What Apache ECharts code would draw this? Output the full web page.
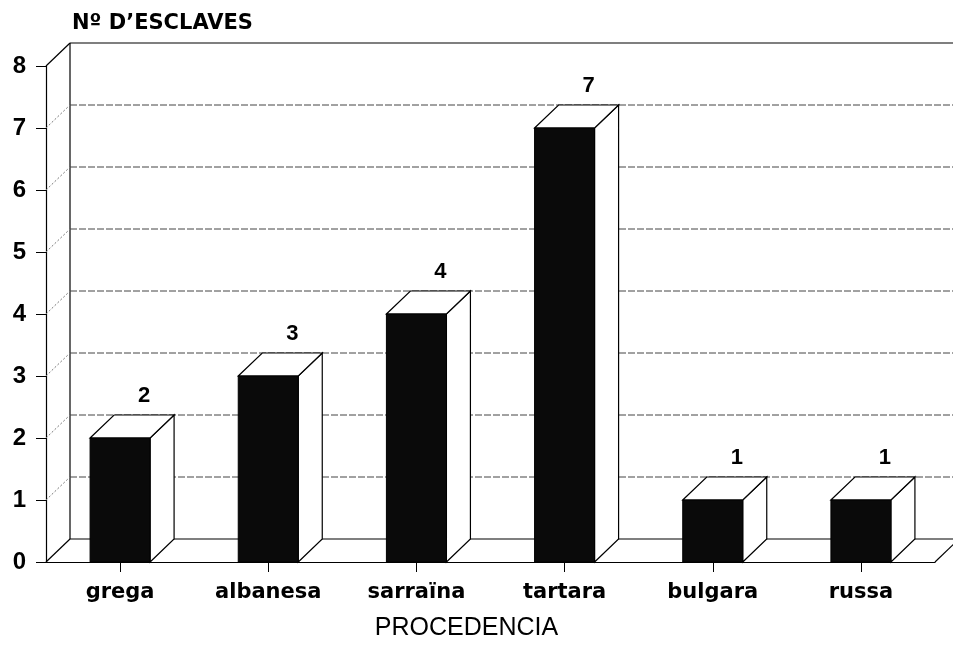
<!DOCTYPE html>
<html>
<head>
<meta charset="utf-8">
<script src="https://cdn.jsdelivr.net/npm/echarts@6/dist/echarts.min.js"></script>
<style>
html,body{margin:0;padding:0;background:#fff;}
#chart{width:953px;height:647px;}
</style>
</head>
<body>
<div id="chart"></div>
<script>
// ---- data ----
var categories = ['grega', 'albanesa', 'sarraïna', 'tartara', 'bulgara', 'russa'];
var slaves = [2, 3, 4, 7, 1, 1];
var yTicks = [0, 1, 2, 3, 4, 5, 6, 7, 8];
var yTitle = 'Nº D\u2019ESCLAVES';
var xTitle = 'PROCEDENCIA';

// ---- style constants ----
var DX = 24, DY = -23;          // depth offset of the 3D effect
var BAR_RATIO = 0.405;
var FONT = '"Liberation Sans", Arial, Helvetica, sans-serif';
var WIDE = '"DejaVu Sans", Verdana, sans-serif';
var yMin = yTicks[0], yMax = yTicks[yTicks.length - 1];

var chart = echarts.init(document.getElementById('chart'), null, {renderer: 'canvas'});

function frameItem(params, api) {
  var cs = params.coordSys;
  var v = api.value(1);
  var y = api.coord([0, v])[1];
  var x0 = cs.x, x1 = cs.x + cs.width;
  var edge = (v === yMin || v === yMax);
  var children = [];
  children.push({
    type: 'line',
    shape: {x1: x0, y1: y, x2: x0 + DX, y2: y + DY},
    style: edge ? {stroke: '#000', lineWidth: 1.2}
                : {stroke: '#777', lineWidth: 1, lineDash: [2, 2]}
  });
  children.push({
    type: 'line',
    shape: {x1: x0 + DX, y1: y + DY, x2: x1 + DX, y2: y + DY},
    style: edge ? {stroke: '#000', lineWidth: 1.2}
                : {stroke: '#444', lineWidth: 1, lineDash: [7, 2]}
  });
  if (v === yMin) {
    var yTop = api.coord([0, yMax])[1];
    children.push({
      type: 'line',
      shape: {x1: x0 + DX, y1: y + DY, x2: x0 + DX, y2: yTop + DY},
      style: {stroke: '#000', lineWidth: 1.2}
    });
    children.push({
      type: 'line',
      shape: {x1: x1, y1: y, x2: x1 + DX, y2: y + DY},
      style: {stroke: '#000', lineWidth: 1.2}
    });
  }
  return {type: 'group', children: children};
}

function barItem(params, api) {
  var i = api.value(0), v = api.value(1);
  var base = api.coord([i, 0]);
  var top = api.coord([i, v]);
  var bw = api.size([1, 0])[0] * BAR_RATIO;
  var xl = top[0] - bw / 2, xr = top[0] + bw / 2;
  var yt = top[1], yb = base[1];
  return {
    type: 'group',
    children: [
      {
        type: 'polygon',
        shape: {points: [[xr, yt], [xr + DX, yt + DY], [xr + DX, yb + DY], [xr, yb]]},
        style: {fill: '#fff', stroke: '#000', lineWidth: 1.2}
      },
      {
        type: 'polygon',
        shape: {points: [[xl, yt], [xr, yt], [xr + DX, yt + DY], [xl + DX, yt + DY]]},
        style: {fill: '#fff', stroke: '#000', lineWidth: 1.2}
      },
      {
        type: 'rect',
        shape: {x: xl, y: yt, width: bw, height: yb - yt},
        style: {fill: '#0a0a0a', stroke: '#000', lineWidth: 1}
      },
      {
        type: 'text',
        style: {
          text: String(v),
          x: top[0] + DX,
          y: yt + DY - 19,
          align: 'center',
          verticalAlign: 'middle',
          fontSize: 22,
          fontWeight: 'bold',
          fontFamily: FONT,
          fill: '#000'
        }
      }
    ]
  };
}

var option = {
  backgroundColor: '#fff',
  animation: false,
  title: {
    text: yTitle,
    left: 67,
    top: 8,
    textStyle: {fontSize: 21, fontWeight: 'bold', fontFamily: WIDE, color: '#000'}
  },
  grid: {left: 46, right: 18, top: 66, bottom: 85, containLabel: false},
  xAxis: {
    type: 'category',
    data: categories,
    axisLine: {show: true, lineStyle: {color: '#000', width: 1.2}},
    axisTick: {show: true, alignWithLabel: true, length: 10, lineStyle: {color: '#000'}},
    axisLabel: {fontSize: 21, fontWeight: 'bold', fontFamily: WIDE, color: '#000', margin: 20},
    splitLine: {show: false},
    name: xTitle,
    nameLocation: 'middle',
    nameGap: 54,
    nameTextStyle: {fontSize: 25, fontFamily: FONT, color: '#000', padding: [0, 48, 0, 0]}
  },
  yAxis: {
    type: 'value',
    min: yMin,
    max: yMax,
    interval: 1,
    axisLine: {show: true, lineStyle: {color: '#000', width: 1.2}},
    axisTick: {show: true, length: 10, lineStyle: {color: '#000'}},
    axisLabel: {fontSize: 24, fontWeight: 'bold', fontFamily: FONT, color: '#000', margin: 20},
    splitLine: {show: false}
  },
  series: [
    {
      type: 'custom',
      z: 1,
      renderItem: frameItem,
      data: yTicks.map(function (t) { return [0, t]; }),
      silent: true
    },
    {
      type: 'custom',
      z: 3,
      renderItem: barItem,
      data: slaves.map(function (v, i) { return [i, v]; })
    }
  ]
};
chart.setOption(option);
</script>
</body>
</html>
